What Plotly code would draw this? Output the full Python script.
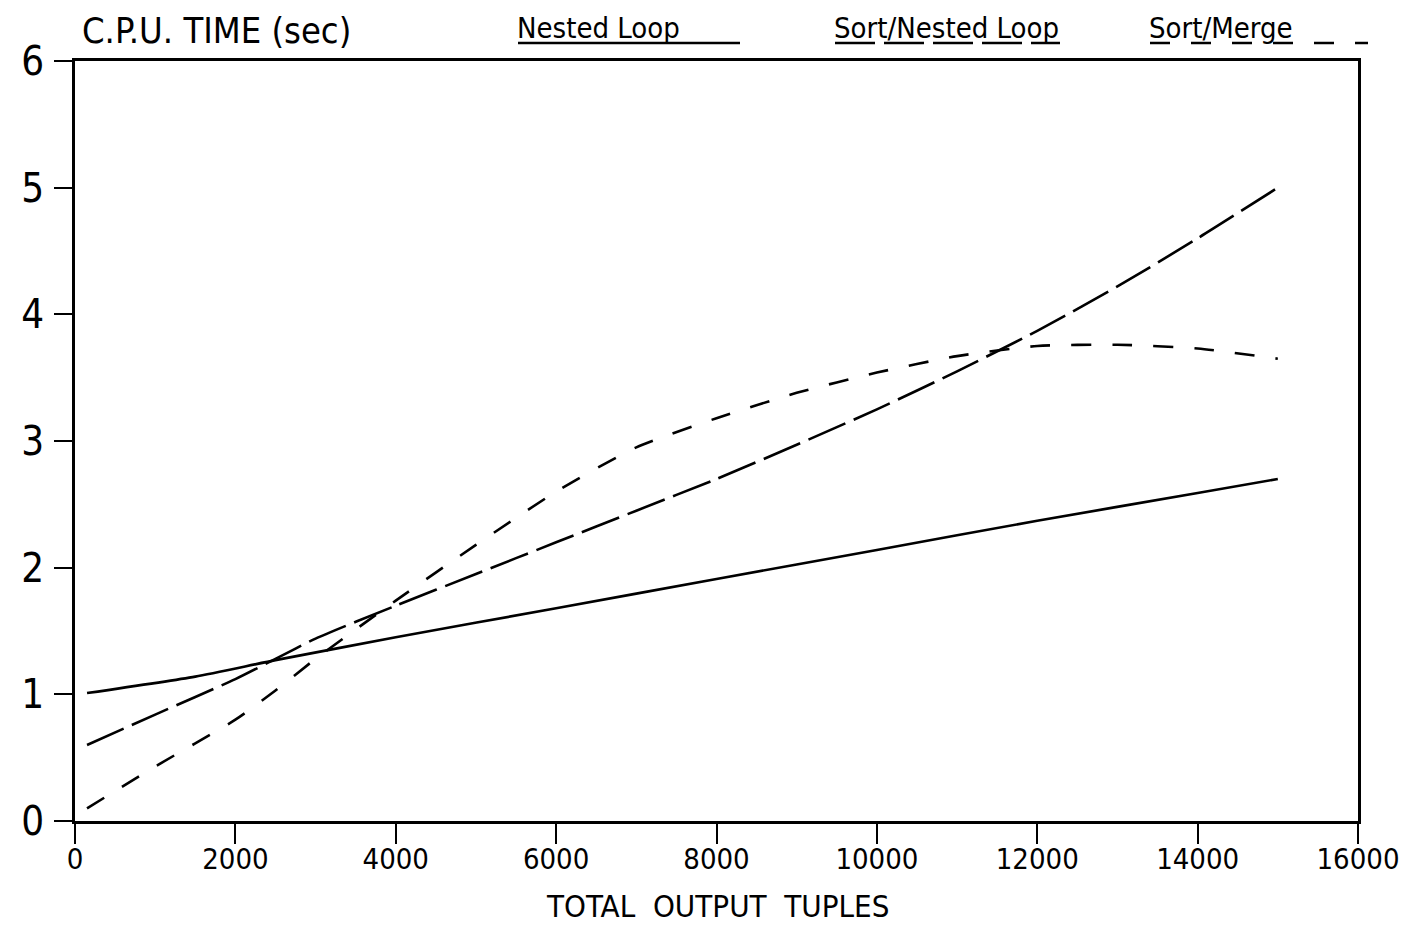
import plotly.graph_objects as go

# Data
nl_x = [150, 1500, 2500, 4000, 6000, 8000, 10000, 12000, 14000, 15000]
nl_y = [1.01, 1.14, 1.27, 1.45, 1.68, 1.91, 2.14, 2.37, 2.59, 2.70]

snl_x = [150, 1000, 2000, 2500, 3000, 4000, 5000, 6000, 7000, 8000, 9000, 10000, 11000, 12000, 13000, 14000, 15000]
snl_y = [0.60, 0.84, 1.12, 1.28, 1.44, 1.70, 1.95, 2.20, 2.45, 2.70, 2.97, 3.25, 3.55, 3.87, 4.22, 4.60, 5.00]

sm_x = [150, 1000, 2000, 2500, 3000, 4000, 5000, 6000, 7000, 8000, 9000, 10000, 11000, 12000, 13000, 14000, 15000]
sm_y = [0.10, 0.43, 0.80, 1.03, 1.28, 1.74, 2.18, 2.60, 2.95, 3.18, 3.38, 3.54, 3.67, 3.75, 3.76, 3.73, 3.65]

x_ticks = [0, 2000, 4000, 6000, 8000, 10000, 12000, 14000, 16000]
y_ticks = [0, 1, 2, 3, 4, 5, 6]

FONT = "DejaVu Sans Condensed, Liberation Sans Narrow, DejaVu Sans"
W = 2.6

# The page body keeps its default 8px margin: figure spans page px 8..1401 x 8..924
BM = 8
FW, FH = 1393, 916
# plot area in page px
PX0, PX1, PY0, PY1 = 75, 1358, 61, 821


def px(x):
    return (x - PX0) / (PX1 - PX0)


def py(y):
    return (PY1 - y) / (PY1 - PY0)


fig = go.Figure()
fig.add_trace(go.Scatter(x=nl_x, y=nl_y, mode="lines", name="Nested Loop",
                         line=dict(color="black", width=W, shape="spline", smoothing=0.6)))
fig.add_trace(go.Scatter(x=snl_x, y=snl_y, mode="lines", name="Sort/Nested Loop",
                         line=dict(color="black", width=W, dash="40px,9px", shape="spline", smoothing=0.6)))
fig.add_trace(go.Scatter(x=sm_x, y=sm_y, mode="lines", name="Sort/Merge",
                         line=dict(color="black", width=W, dash="20px,21px", shape="spline", smoothing=0.6)))

fig.update_layout(
    width=FW, height=FH,
    margin=dict(l=PX0 - BM, r=BM + FW - PX1, t=PY0 - BM, b=BM + FH - PY1),
    paper_bgcolor="white", plot_bgcolor="white",
    showlegend=False,
    font=dict(family=FONT, color="black"),
)
fig.update_xaxes(
    range=[0, 16000], tickvals=x_ticks, ticktext=[str(v) for v in x_ticks],
    showgrid=False, zeroline=False, showline=True, linecolor="black", linewidth=2.5,
    mirror=True, ticks="outside", ticklen=20, tickwidth=2, tickcolor="black",
    ticklabelstandoff=-10, automargin=False, ticklabeloverflow="allow",
    tickfont=dict(size=29, family=FONT),
)
fig.update_yaxes(
    range=[0, 6], tickvals=y_ticks, ticktext=[str(v) for v in y_ticks],
    showgrid=False, zeroline=False, showline=True, linecolor="black", linewidth=2.5,
    mirror=True, ticks="outside", ticklen=18, tickwidth=2, tickcolor="black",
    ticklabelstandoff=2, automargin=False,
    tickfont=dict(size=40, family=FONT),
)

# X-axis title
fig.add_annotation(text="TOTAL  OUTPUT  TUPLES", xref="paper", yref="paper", x=px(717), y=py(906),
                   xanchor="center", yanchor="middle", showarrow=False,
                   font=dict(size=31, family=FONT))

# Y-axis title, top-left
fig.add_annotation(text="C.P.U. TIME (sec)", xref="paper", yref="paper", x=px(80), y=py(30),
                   xanchor="left", yanchor="middle", showarrow=False,
                   font=dict(size=36, family=FONT))

# Legend as text with underline samples
legend = [
    ("Nested Loop", 518, 740, "solid"),
    ("Sort/Nested Loop", 835, 1060, "40px,9px"),
    ("Sort/Merge", 1150, 1368, "20px,21px"),
]
for name, x0, x1, dash in legend:
    fig.add_annotation(text=name, xref="paper", yref="paper",
                       x=px(x0 - 3), y=py(28), xanchor="left", yanchor="middle",
                       showarrow=False, font=dict(size=29, family=FONT))
    fig.add_shape(type="line", xref="paper", yref="paper",
                  x0=px(x0), x1=px(x1), y0=py(43), y1=py(43),
                  line=dict(color="black", width=2.4, dash=dash))

fig.write_html("out.html", config={"displayModeBar": False})
